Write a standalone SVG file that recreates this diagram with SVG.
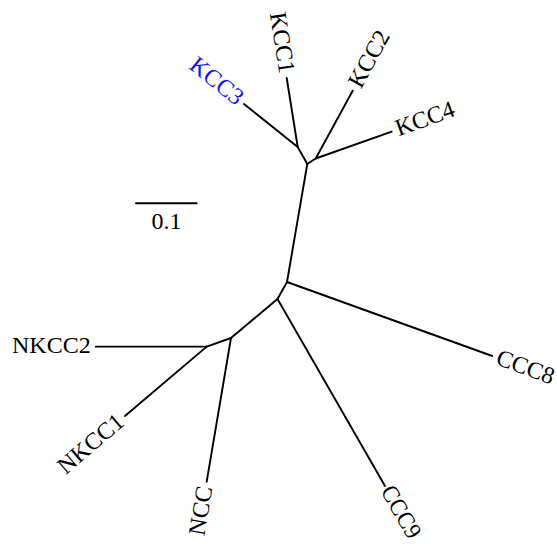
<svg xmlns="http://www.w3.org/2000/svg" width="557" height="544" viewBox="0 0 557 544">
  <style>
    .br { stroke: #000; stroke-width: 1.9; fill: none; stroke-linecap: round; stroke-linejoin: round; }
    .lbl { font-family: "Liberation Serif", "Times New Roman", serif; font-size: 24px; fill: #000; }
    .hl { fill: #1010f5; }
    .out { text-anchor: start; }
    .in { text-anchor: end; }
  </style>
  <rect width="557" height="544" fill="#fff"/>

  <!-- branches of the unrooted tree -->
  <g id="connectors">
    <!-- KCC clade -->
    <polyline class="br" points="286.7,78 297.7,147 307.3,164"/>
    <line class="br" x1="244" y1="104" x2="297.7" y2="147"/>
    <polyline class="br" points="352.7,90.7 315.7,158.5 307.3,164"/>
    <line class="br" x1="391.7" y1="131.7" x2="315.7" y2="158.5"/>
    <!-- internal stem -->
    <line class="br" x1="307.3" y1="164" x2="287" y2="282"/>
    <!-- CCC8 -->
    <line class="br" x1="287" y1="282" x2="492.3" y2="356"/>
    <!-- CCC9 and the NKCC/NCC clade -->
    <line class="br" x1="287" y1="282" x2="277.5" y2="299"/>
    <line class="br" x1="277.5" y1="299" x2="385" y2="486"/>
    <line class="br" x1="277.5" y1="299" x2="231" y2="338"/>
    <line class="br" x1="231" y1="338" x2="206.7" y2="481.7"/>
    <line class="br" x1="231" y1="338" x2="206.7" y2="346.6"/>
    <line class="br" x1="206.7" y1="346.6" x2="95.7" y2="346.6"/>
    <line class="br" x1="206.7" y1="346.6" x2="125" y2="416"/>
  </g>

  <!-- leaf labels -->
  <g id="KCC1"><text class="lbl in" dy="0.28em" transform="translate(285.9,73.1) rotate(81.1)">KCC1</text></g>
  <g id="KCC3"><text class="lbl in hl" dy="0.28em" transform="translate(240.1,100.9) rotate(38.7)">KCC3</text></g>
  <g id="KCC2"><text class="lbl out" dy="0.28em" transform="translate(355.1,86.3) rotate(-61.3)">KCC2</text></g>
  <g id="KCC4"><text class="lbl out" dy="0.28em" transform="translate(396.4,130) rotate(-19.8)">KCC4</text></g>
  <g id="CCC8"><text class="lbl out" dy="0.28em" transform="translate(497,357.7) rotate(19.9)">CCC8</text></g>
  <g id="CCC9"><text class="lbl out" dy="0.28em" textLength="57" lengthAdjust="spacingAndGlyphs" transform="translate(386,487.6) rotate(60.1)">CCC9</text></g>
  <g id="NCC"><text class="lbl in" dy="0.28em" transform="translate(205.9,486.6) rotate(-80.4)">NCC</text></g>
  <g id="NKCC1"><text class="lbl in" dy="0.28em" transform="translate(121.2,419.2) rotate(-40.4)">NKCC1</text></g>
  <g id="NKCC2"><text class="lbl in" dy="0.28em" transform="translate(90.7,346.6)">NKCC2</text></g>

  <!-- scale bar -->
  <g id="scale">
    <line class="br" x1="136" y1="203.3" x2="196.7" y2="203.3" stroke-linecap="butt"/>
    <text class="lbl" x="166.5" y="229" text-anchor="middle">0.1</text>
  </g>
</svg>
